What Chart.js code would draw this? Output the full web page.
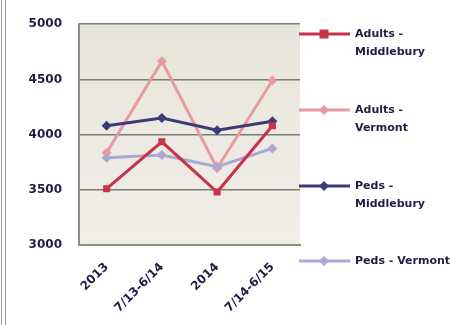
<!DOCTYPE html>
<html>
<head>
<meta charset="utf-8">
<script src="https://cdn.jsdelivr.net/npm/chart.js@4/dist/chart.umd.min.js"></script>
<style>
  html, body { margin: 0; padding: 0; background: #ffffff; }
  #wrap { position: relative; width: 450px; height: 325px; }
  #wrap::before { content: ""; position: absolute; left: 1px; top: 0; width: 5px; height: 325px;
    border-left: 1px solid #9a9a9a; border-right: 1px solid #9a9a9a; box-sizing: border-box; z-index: 2; }
  canvas { display: block; }
</style>
</head>
<body>
<div id="wrap"><canvas id="c" width="450" height="325"></canvas></div>
<script>
const periods = ['2013', '7/13-6/14', '2014', '7/14-6/15'];
const seriesNames = [['Adults -', 'Middlebury'], ['Adults -', 'Vermont'], ['Peds -', 'Middlebury'], ['Peds - Vermont']];
const adultsMiddlebury = [3510, 3935, 3480, 4080];
const adultsVermont = [3835, 4665, 3695, 4490];
const pedsMiddlebury = [4080, 4150, 4040, 4120];
const pedsVermont = [3790, 3815, 3710, 3875];
const yTicks = [3000, 3500, 4000, 4500, 5000];

const colors = ['#c8334a', '#e99aa0', '#3d3a78', '#aba8d2'];
const markers = ['rect', 'rectRot', 'rectRot', 'rectRot'];
const markerSizes = [4.5, 4, 4, 4];
const legendRows = [34, 110, 186, 261];

const plotBackground = {
  id: 'plotBackground',
  beforeDraw(chart) {
    const { ctx, chartArea: a } = chart;
    const g = ctx.createLinearGradient(0, a.top, 0, a.bottom);
    g.addColorStop(0, '#e7e5db');
    g.addColorStop(1, '#f0eee7');
    ctx.save();
    ctx.fillStyle = g;
    ctx.fillRect(a.left, a.top, a.right - a.left, a.bottom - a.top);
    ctx.restore();
  },
  afterDraw(chart) {
    const { ctx } = chart;
    ctx.save();
    chart.data.datasets.forEach((ds, i) => {
      const y = legendRows[i];
      ctx.strokeStyle = colors[i];
      ctx.lineWidth = 3;
      ctx.beginPath();
      ctx.moveTo(299, y);
      ctx.lineTo(350, y);
      ctx.stroke();
      ctx.fillStyle = colors[i];
      const s = markerSizes[i];
      if (markers[i] === 'rect') {
        ctx.fillRect(324 - s, y - s, 2 * s, 2 * s);
      } else {
        ctx.beginPath();
        ctx.moveTo(324, y - s - 1);
        ctx.lineTo(324 + s + 1, y);
        ctx.lineTo(324, y + s + 1);
        ctx.lineTo(324 - s - 1, y);
        ctx.closePath();
        ctx.fill();
      }
      ctx.fillStyle = '#1d1d45';
      ctx.font = 'bold 11px "DejaVu Sans"';
      ctx.textBaseline = 'middle';
      ctx.textAlign = 'left';
      seriesNames[i].forEach((t, k) => ctx.fillText(t, 355, y + k * 18));
    });
    ctx.restore();
  }
};

const datasets = [adultsMiddlebury, adultsVermont, pedsMiddlebury, pedsVermont].map((vals, i) => ({
  label: seriesNames[i].join(' '),
  data: vals,
  borderColor: colors[i],
  backgroundColor: colors[i],
  borderWidth: 3,
  pointStyle: markers[i],
  pointRadius: 5,
  pointBorderWidth: 0,
  tension: 0,
  order: [1, 4, 2, 3][i]
}));

new Chart(document.getElementById('c'), {
  type: 'line',
  data: { labels: periods, datasets },
  options: {
    responsive: false,
    animation: false,
    layout: { padding: { top: 22, right: 150, left: 0, bottom: 0 } },
    plugins: { legend: { display: false }, tooltip: { enabled: false } },
    scales: {
      x: {
        offset: true,
        grid: { display: false, drawTicks: false },
        border: { display: true, color: '#8d8d85', width: 2 },
        ticks: {
          minRotation: 45, maxRotation: 45, padding: 15,
          color: '#1d1d45',
          font: { family: 'DejaVu Sans', size: 12, weight: 'bold' }
        },
        afterFit(scale) { scale.height = 80; }
      },
      y: {
        min: 3000, max: 5000,
        afterBuildTicks(scale) { scale.ticks = yTicks.map(v => ({ value: v })); },
        grid: {
          drawTicks: false,
          color: (c) => (c.tick && (c.tick.value === 3000) ? 'rgba(0,0,0,0)' : '#7c7c74'),
          lineWidth: 1.5
        },
        border: { display: true, color: '#8d8d85', width: 2 },
        ticks: {
          padding: 17,
          color: '#1d1d45',
          font: { family: 'DejaVu Sans', size: 12, weight: 'bold' },
          callback: (v) => String(v)
        },
        afterFit(scale) { scale.width = 79; }
      }
    }
  },
  plugins: [plotBackground]
});
</script>
</body>
</html>
